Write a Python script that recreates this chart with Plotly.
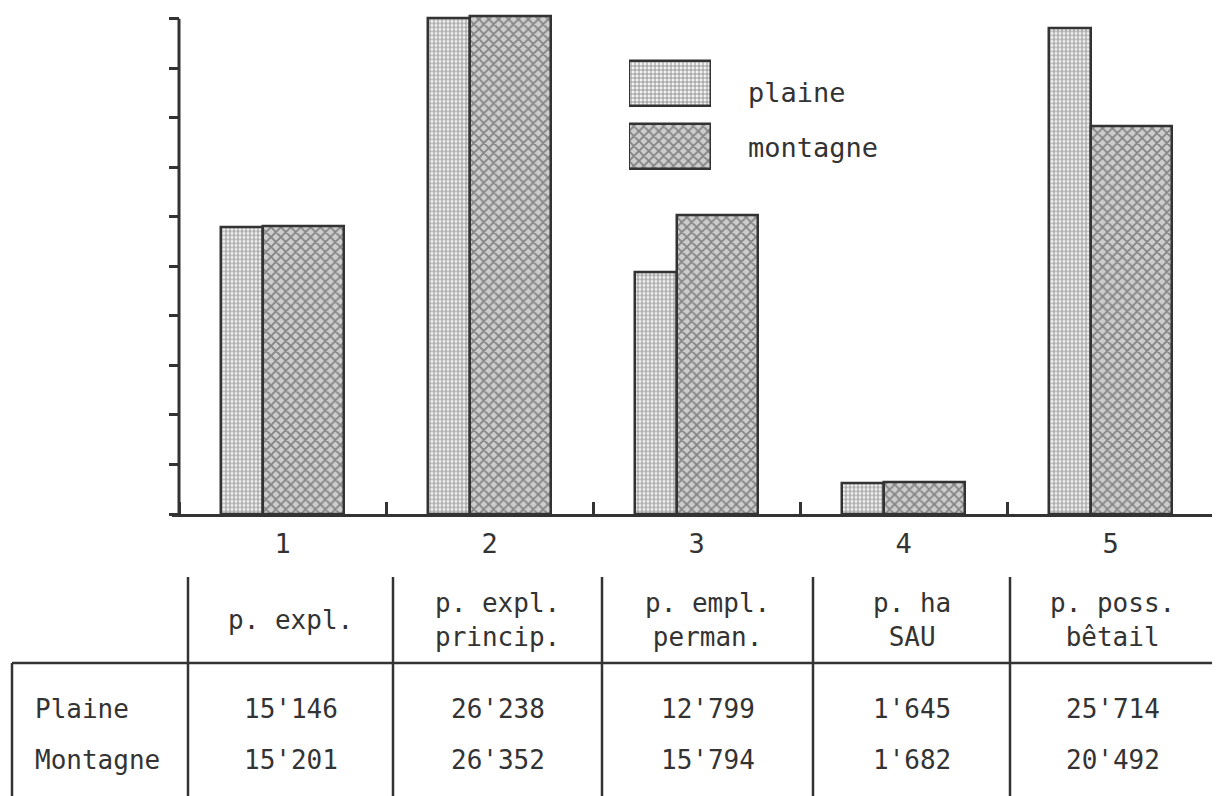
import plotly.graph_objects as go

# ---------------- data ----------------
categories = ["1", "2", "3", "4", "5"]
series_names = ["plaine", "montagne"]
row_labels = ["Plaine", "Montagne"]
col_headers = ["p. expl.", "p. expl.<br>princip.", "p. empl.<br>perman.",
               "p. ha<br>SAU", "p. poss.<br>bêtail"]
plaine = [15146, 26238, 12799, 1645, 25714]
montagne = [15201, 26352, 15794, 1682, 20492]

# ---------------- layout constants ----------------
W, H = 1220, 796
OFF = 8  # page body margin


def px(x):
    return min(1.0, max(0.0, (x - OFF) / W))


def py(y):
    return min(1.0, max(0.0, 1 - (y - OFF) / H))


INK = "#333333"
FONT = "DejaVu Sans Mono"

base_px = 514          # baseline pixel row (screen)
unit_px = 0.0189       # pixels per value unit
ymax = 26700
top_px = base_px - ymax * unit_px
dtick = 2620
cat_px = 207
x0_px, axis_px, xend_px = 172, 179, 1222
xr = [-0.5 - (axis_px - x0_px) / cat_px, -0.5 + (xend_px - axis_px) / cat_px]

pat_plaine = dict(shape="+", size=4, solidity=0.45, fgcolor="#3a3a3a", bgcolor="#f4f4f4")
pat_mont = dict(shape="x", size=7, solidity=0.45, fgcolor="#3a3a3a", bgcolor="#cdcdcd")
patterns = [pat_plaine, pat_mont]
offsets = [-0.295, -0.095]
widths = [0.2, 0.39]

fig = go.Figure()
for name, vals, pat, off, wd in zip(series_names, [plaine, montagne], patterns, offsets, widths):
    fig.add_trace(go.Bar(
        x=categories, y=vals, name=name, offset=off, width=wd,
        marker=dict(color="white", pattern=pat, line=dict(color=INK, width=2.5)),
        showlegend=False,
    ))

# legend keys (custom, patterned boxes)
for name, pat in zip(series_names, patterns):
    fig.add_trace(go.Bar(
        x=[1], y=[name], orientation="h", width=0.714, xaxis="x2", yaxis="y2",
        marker=dict(color="white", pattern=pat, line=dict(color=INK, width=2.5)),
        showlegend=False, hoverinfo="skip",
    ))

legend_text_y = [93, 147]
annotations = []
for name, ty in zip(series_names, legend_text_y):
    annotations.append(dict(x=px(746), y=py(ty), xref="paper", yref="paper", text=name,
                            showarrow=False, xanchor="left", yanchor="middle",
                            font=dict(family=FONT, size=27, color=INK)))

# ---------------- table ----------------
col_px = [188, 393, 602, 813, 1010, 1215]
shapes = []
for cx in col_px:
    shapes.append(dict(type="line", xref="paper", yref="paper", x0=px(cx), x1=px(cx),
                       y0=py(577), y1=py(800), line=dict(color=INK, width=2.5)))
shapes.append(dict(type="line", xref="paper", yref="paper", x0=px(12), x1=px(12),
                   y0=py(663), y1=py(800), line=dict(color=INK, width=2.5)))
shapes.append(dict(type="line", xref="paper", yref="paper", x0=px(12), x1=px(1215),
                   y0=py(663), y1=py(663), line=dict(color=INK, width=2.5)))
# y-axis line
shapes.append(dict(type="line", xref="x", yref="y", x0=-0.5, x1=-0.5, y0=0, y1=10 * dtick,
                   line=dict(color=INK, width=3)))

TFS = 26
for i, hdr in enumerate(col_headers):
    cx = (col_px[i] + col_px[i + 1]) / 2
    annotations.append(dict(x=px(cx), y=py(620), xref="paper", yref="paper", text=hdr,
                            showarrow=False, xanchor="center", yanchor="middle",
                            font=dict(family=FONT, size=TFS, color=INK)))

row_y = [709, 760]
for lbl, vals, ry in zip(row_labels, [plaine, montagne], row_y):
    annotations.append(dict(x=px(33), y=py(ry), xref="paper", yref="paper", text=lbl,
                            showarrow=False, xanchor="left", yanchor="middle",
                            font=dict(family=FONT, size=TFS, color=INK)))
    for i, v in enumerate(vals):
        cx = (col_px[i] + col_px[i + 1]) / 2
        annotations.append(dict(x=px(cx), y=py(ry), xref="paper", yref="paper",
                                text=f"{v:,}".replace(",", "'"),
                                showarrow=False, xanchor="center", yanchor="middle",
                                font=dict(family=FONT, size=TFS, color=INK)))

fig.update_layout(
    width=W, height=H, margin=dict(l=0, r=0, t=0, b=0),
    paper_bgcolor="white", plot_bgcolor="white", showlegend=False,
    barmode="overlay", bargap=0,
    xaxis=dict(type="category", domain=[px(x0_px), px(xend_px)], range=xr, tickson="boundaries",
               ticks="inside", ticklen=12, tickwidth=2.5, tickcolor=INK,
               showline=True, linewidth=3, linecolor=INK, showgrid=False, zeroline=False,
               tickfont=dict(family=FONT, size=27, color=INK), ticklabelstandoff=4,
               anchor="y", fixedrange=True),
    yaxis=dict(domain=[py(base_px), py(top_px)], range=[0, ymax], anchor="free",
               position=px(axis_px), tick0=0, dtick=dtick, ticks="outside", ticklen=10,
               tickwidth=2.5, tickcolor=INK, showticklabels=False, showline=False,
               showgrid=False, zeroline=False, fixedrange=True),
    xaxis2=dict(domain=[px(629), px(711)], range=[0, 1], visible=False, anchor="y2"),
    yaxis2=dict(domain=[py(178), py(52)], type="category", categoryorder="array",
                categoryarray=series_names[::-1], range=[-0.5, 1.5], visible=False,
                anchor="x2"),
    shapes=shapes, annotations=annotations,
)

fig.write_html("out.html")
